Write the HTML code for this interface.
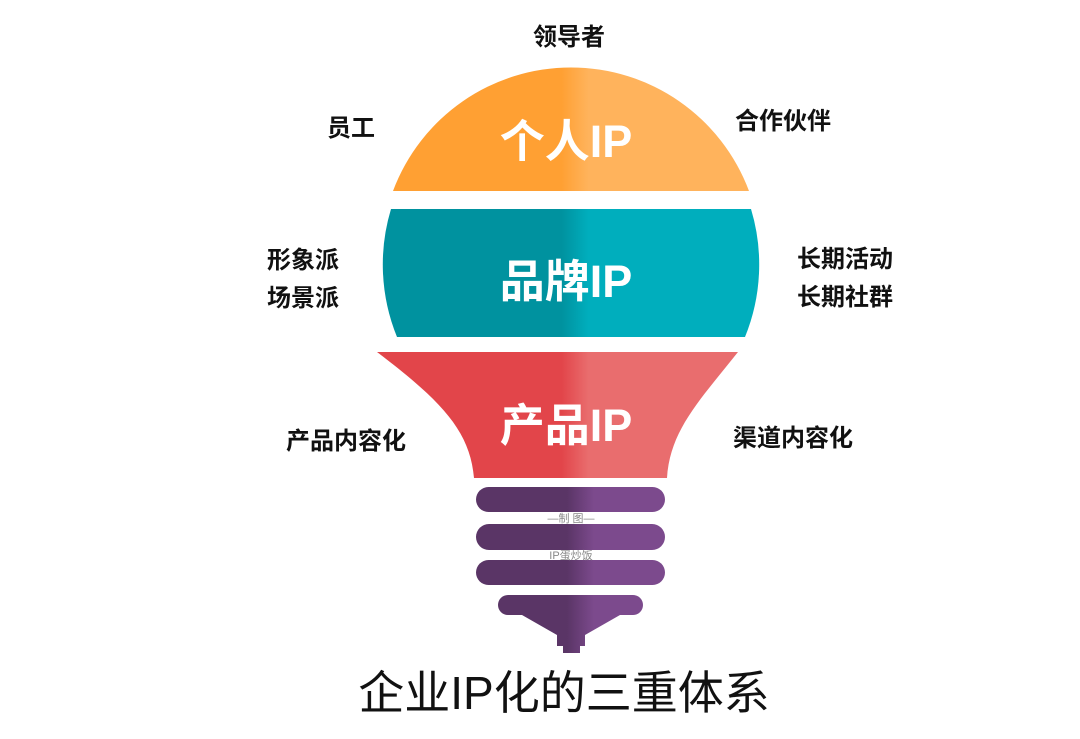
<!DOCTYPE html>
<html><head><meta charset="utf-8"><style>
html,body{margin:0;padding:0;background:#fff;}
svg text{font-family:"Liberation Sans","Noto Sans CJK SC",sans-serif;}
</style></head><body>
<svg width="1080" height="734" viewBox="0 0 1080 734" xmlns="http://www.w3.org/2000/svg">
<defs>
<linearGradient id="go" x1="0" x2="1080" gradientUnits="userSpaceOnUse"><stop offset="0.52" stop-color="#FFA033"/><stop offset="0.545" stop-color="#FFB35C"/></linearGradient>
<linearGradient id="gt" x1="0" x2="1080" gradientUnits="userSpaceOnUse"><stop offset="0.52" stop-color="#00929F"/><stop offset="0.545" stop-color="#00AEBD"/></linearGradient>
<linearGradient id="gr" x1="0" x2="1080" gradientUnits="userSpaceOnUse"><stop offset="0.52" stop-color="#E2454A"/><stop offset="0.545" stop-color="#E96D6E"/></linearGradient>
<linearGradient id="gp" x1="0" x2="1080" gradientUnits="userSpaceOnUse"><stop offset="0.525" stop-color="#5A3566"/><stop offset="0.55" stop-color="#7C4A8D"/></linearGradient>
</defs>
<path d="M393,191 A190,190 0 0 1 749,191 Z" fill="url(#go)"/>
<path d="M391,209 L751,209 A192,192 0 0 1 745,337 L397,337 A192,192 0 0 1 391,209 Z" fill="url(#gt)"/>
<path d="M377,352 L738,352 C700,400 670,430 667,478 L474,478 C470,430 440,400 377,352 Z" fill="url(#gr)"/>
<rect x="476" y="487" width="189" height="25" rx="12.5" fill="url(#gp)"/>
<rect x="476" y="524" width="189" height="26" rx="13" fill="url(#gp)"/>
<rect x="476" y="560" width="189" height="25" rx="12.5" fill="url(#gp)"/>
<path d="M508,595 L633,595 A10,10 0 0 1 633,615 L620,615 L585,635 L585,646 L580,646 L580,653 L563,653 L563,646 L557,646 L557,635 L522,615 L508,615 A10,10 0 0 1 508,595 Z" fill="url(#gp)"/>
<text x="571" y="522" font-size="11" fill="#888" text-anchor="middle">—制 图—</text>
<text x="571" y="559" font-size="11" fill="#888" text-anchor="middle">IP蛋炒饭</text>
<g fill="#fff" font-weight="bold" font-size="45" text-anchor="middle">
<text x="566" y="157">个人IP</text>
<text x="566" y="297">品牌IP</text>
<text x="566" y="441">产品IP</text>
</g>
<g fill="#111" font-weight="bold" font-size="24" text-anchor="middle">
<text x="569" y="45">领导者</text>
<text x="351" y="136">员工</text>
<text x="783" y="129">合作伙伴</text>
<text x="303" y="268">形象派</text>
<text x="303" y="306">场景派</text>
<text x="845" y="267">长期活动</text>
<text x="845" y="305">长期社群</text>
<text x="346" y="449">产品内容化</text>
<text x="793" y="446">渠道内容化</text>
</g>
<text x="564" y="709" font-size="46" fill="#111" text-anchor="middle">企业IP化的三重体系</text>
</svg>
</body></html>
